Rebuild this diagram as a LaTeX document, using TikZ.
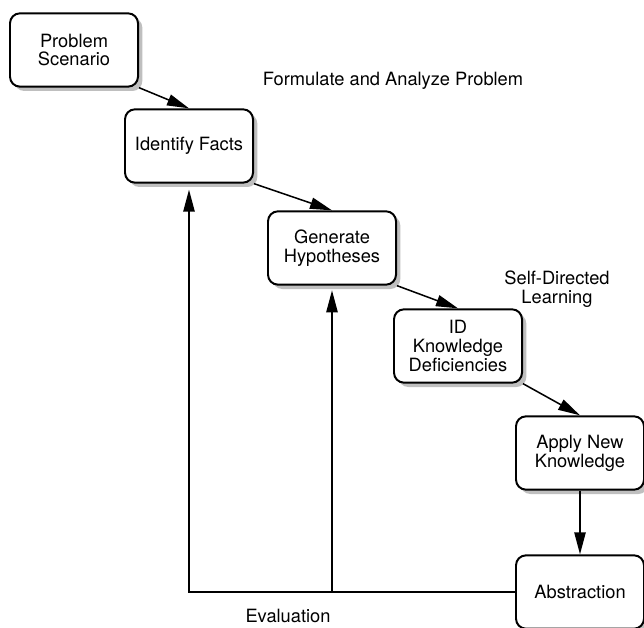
\documentclass[tikz,border=0pt]{standalone}
\usepackage{fontspec}
\setmainfont{TeX Gyre Heros}
\usepackage{tikz}
\usetikzlibrary{arrows.meta,positioning,shadows}

\begin{document}
\begin{tikzpicture}[
    x=0.03cm, y=-0.03cm,
    font=\fontsize{15.6}{16}\selectfont,
    stage/.style={rectangle, rounded corners=0.3cm, draw, line width=1.7pt, fill=white, minimum width=3.84cm, minimum height=2.2cm, align=center, inner sep=2pt, drop shadow={shadow xshift=0.13cm, shadow yshift=-0.13cm, fill=gray!50, opacity=1}},
    arrow/.style={-{Triangle[length=0.66cm,width=0.34cm]}, line width=1.3pt},
    phase/.style={align=center, inner sep=0pt}
]
\useasboundingbox (0,0) rectangle (644,628);

\node[stage] (ps) at (74,50) {Problem\\Scenario};
\node[stage] (if) at (189,146) {Identify Facts};
\node[stage] (gh) at (332,248) {Generate\\Hypotheses};
\node[stage] (kd) at (458,346) {ID\\Knowledge\\Deficiencies};
\node[stage] (ank) at (580,453) {Apply New\\Knowledge};
\node[stage] (abs) at (580,592) {Abstraction};

\node[phase] (fap) at (393,81) {Formulate and Analyze Problem};
\node[phase] (sdl) at (557,289) {Self-Directed\\Learning};
\node[phase] (ev) at (288,616) {Evaluation};

\draw[arrow] (ps.south east) -- (if.north);
\draw[arrow] (if.south east) -- (gh.north);
\draw[arrow] (gh.south east) -- (kd.north);
\draw[arrow] (kd.south east) -- (ank.north);
\draw[arrow] (ank.south) -- (abs.north);

% evaluation loop back
\coordinate (evl) at (if.south |- abs.west);
\coordinate (evm) at (gh.south |- abs.west);
\draw[arrow, shorten >=0.18cm] (abs.west) -- (evl) -- (if.south);
\draw[arrow, shorten >=0.14cm] (evm) -- (gh.south);

\end{tikzpicture}
\end{document}
